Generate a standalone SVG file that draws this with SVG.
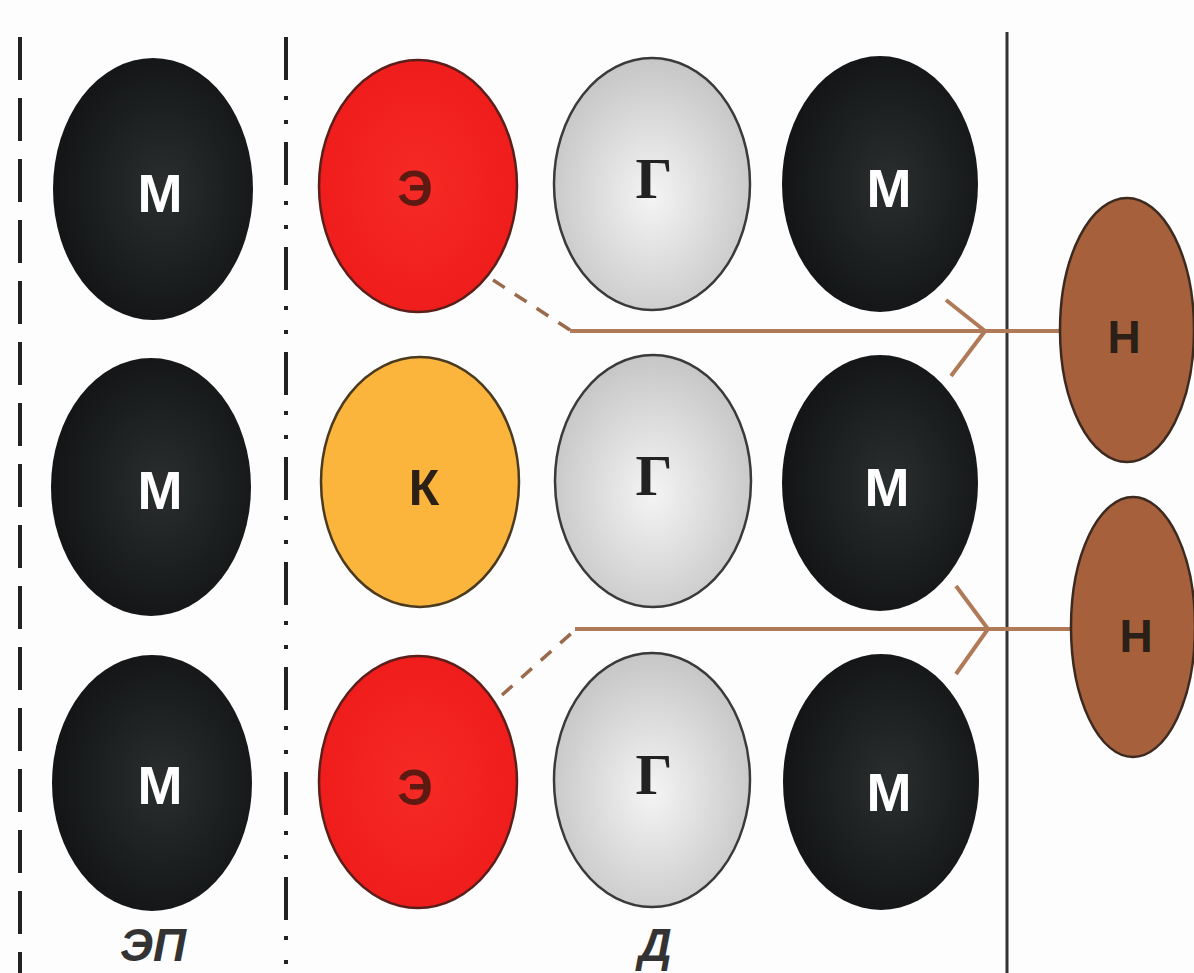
<svg xmlns="http://www.w3.org/2000/svg" width="1194" height="973" viewBox="0 0 1194 973">
<defs>
<radialGradient id="gBlack" cx="0.55" cy="0.5" r="0.6">
<stop offset="0" stop-color="#2b2e2f"/>
<stop offset="1" stop-color="#101213"/>
</radialGradient>
<radialGradient id="gGray" cx="0.5" cy="0.55" r="0.6">
<stop offset="0" stop-color="#f4f4f4"/>
<stop offset="1" stop-color="#c2c2c2"/>
</radialGradient>
<radialGradient id="gRed" cx="0.5" cy="0.5" r="0.6">
<stop offset="0" stop-color="#f62a26"/>
<stop offset="1" stop-color="#ee1a1a"/>
</radialGradient>
</defs>
<style>
.blk{fill:url(#gBlack)}
.gry{fill:url(#gGray);stroke:#3a3a3a;stroke-width:2.5}
.red{fill:url(#gRed);stroke:#5a1f1a;stroke-width:2.5}
.org{fill:#fbb53c;stroke:#4a3a20;stroke-width:2.5}
.brn{fill:#a6603c;stroke:#3c2a20;stroke-width:2.5}
.tM{font-family:"Liberation Sans",Arial,sans-serif;font-weight:bold;font-size:54px;fill:#ffffff;text-anchor:middle}
.tS{font-family:"Liberation Sans",Arial,sans-serif;font-weight:bold;font-size:50px;text-anchor:middle}
.tN{font-family:"Liberation Sans",Arial,sans-serif;font-weight:bold;font-size:46px;text-anchor:middle;fill:#2a2018}
.tG{font-family:"Liberation Serif","Times New Roman",serif;font-weight:bold;font-size:58px;fill:#222;text-anchor:middle}
.lab{font-family:"Liberation Sans",Arial,sans-serif;font-weight:bold;font-style:italic;font-size:46px;fill:#333;text-anchor:middle}
.con{stroke:#b07a58;stroke-width:4;fill:none}
.dsh{stroke:#9a6a4c;stroke-width:3.5;fill:none;stroke-dasharray:14 12}
</style>
<rect width="1194" height="973" fill="#fdfdfd"/>
<g id="dividers">
<line x1="20" y1="37" x2="20" y2="973" stroke="#222" stroke-width="4" stroke-dasharray="43 18"/>
<line x1="286" y1="37" x2="286" y2="973" stroke="#222" stroke-width="4" stroke-dasharray="43 16 4 20 4 18"/>
<line x1="1007" y1="32" x2="1007" y2="973" stroke="#333" stroke-width="3"/>
</g>
<g id="connectors">
<path class="dsh" d="M493 280 L570 330"/>
<path class="con" d="M570 331 L1062 331"/>
<path class="con" d="M946 300 L985 331 L951 376"/>
<path class="dsh" d="M502 695 L575 630"/>
<path class="con" d="M575 629 L1074 629"/>
<path class="con" d="M956 586 L988 629 L956 674"/>
</g>
<g id="ep-m1"><ellipse class="blk" cx="153" cy="189" rx="100" ry="131"/><text class="tM" x="160" y="212">М</text></g>
<g id="ep-m2"><ellipse class="blk" cx="151" cy="487" rx="100" ry="129"/><text class="tM" x="160" y="509">М</text></g>
<g id="ep-m3"><ellipse class="blk" cx="152" cy="783" rx="100" ry="128"/><text class="tM" x="160" y="804">М</text></g>
<g id="e1"><ellipse class="red" cx="418" cy="186" rx="99" ry="126"/><text class="tS" x="415" y="206" fill="#5c1a12">Э</text></g>
<g id="k"><ellipse class="org" cx="420" cy="482" rx="99" ry="125"/><text class="tS" x="424" y="505" fill="#2a2015">К</text></g>
<g id="e2"><ellipse class="red" cx="418" cy="782" rx="99" ry="126"/><text class="tS" x="415" y="805" fill="#5c1a12">Э</text></g>
<g id="g1"><ellipse class="gry" cx="652" cy="184" rx="98" ry="126"/><text class="tG" x="654" y="198">Г</text></g>
<g id="g2"><ellipse class="gry" cx="653" cy="481" rx="98" ry="126"/><text class="tG" x="654" y="495">Г</text></g>
<g id="g3"><ellipse class="gry" cx="652" cy="780" rx="98" ry="127"/><text class="tG" x="654" y="794">Г</text></g>
<g id="d-m1"><ellipse class="blk" cx="880" cy="184" rx="98" ry="128"/><text class="tM" x="889" y="207">М</text></g>
<g id="d-m2"><ellipse class="blk" cx="880" cy="483" rx="98" ry="128"/><text class="tM" x="887" y="506">М</text></g>
<g id="d-m3"><ellipse class="blk" cx="881" cy="782" rx="98" ry="128"/><text class="tM" x="889" y="811">М</text></g>
<g id="n1"><ellipse class="brn" cx="1127" cy="330" rx="67" ry="132"/><text class="tN" x="1124" y="353">Н</text></g>
<g id="n2"><ellipse class="brn" cx="1133" cy="627" rx="62" ry="130"/><text class="tN" x="1136" y="652">Н</text></g>
<g id="labels">
<text class="lab" x="153" y="961">ЭП</text>
<text class="lab" x="655" y="961">Д</text>
</g>
</svg>
